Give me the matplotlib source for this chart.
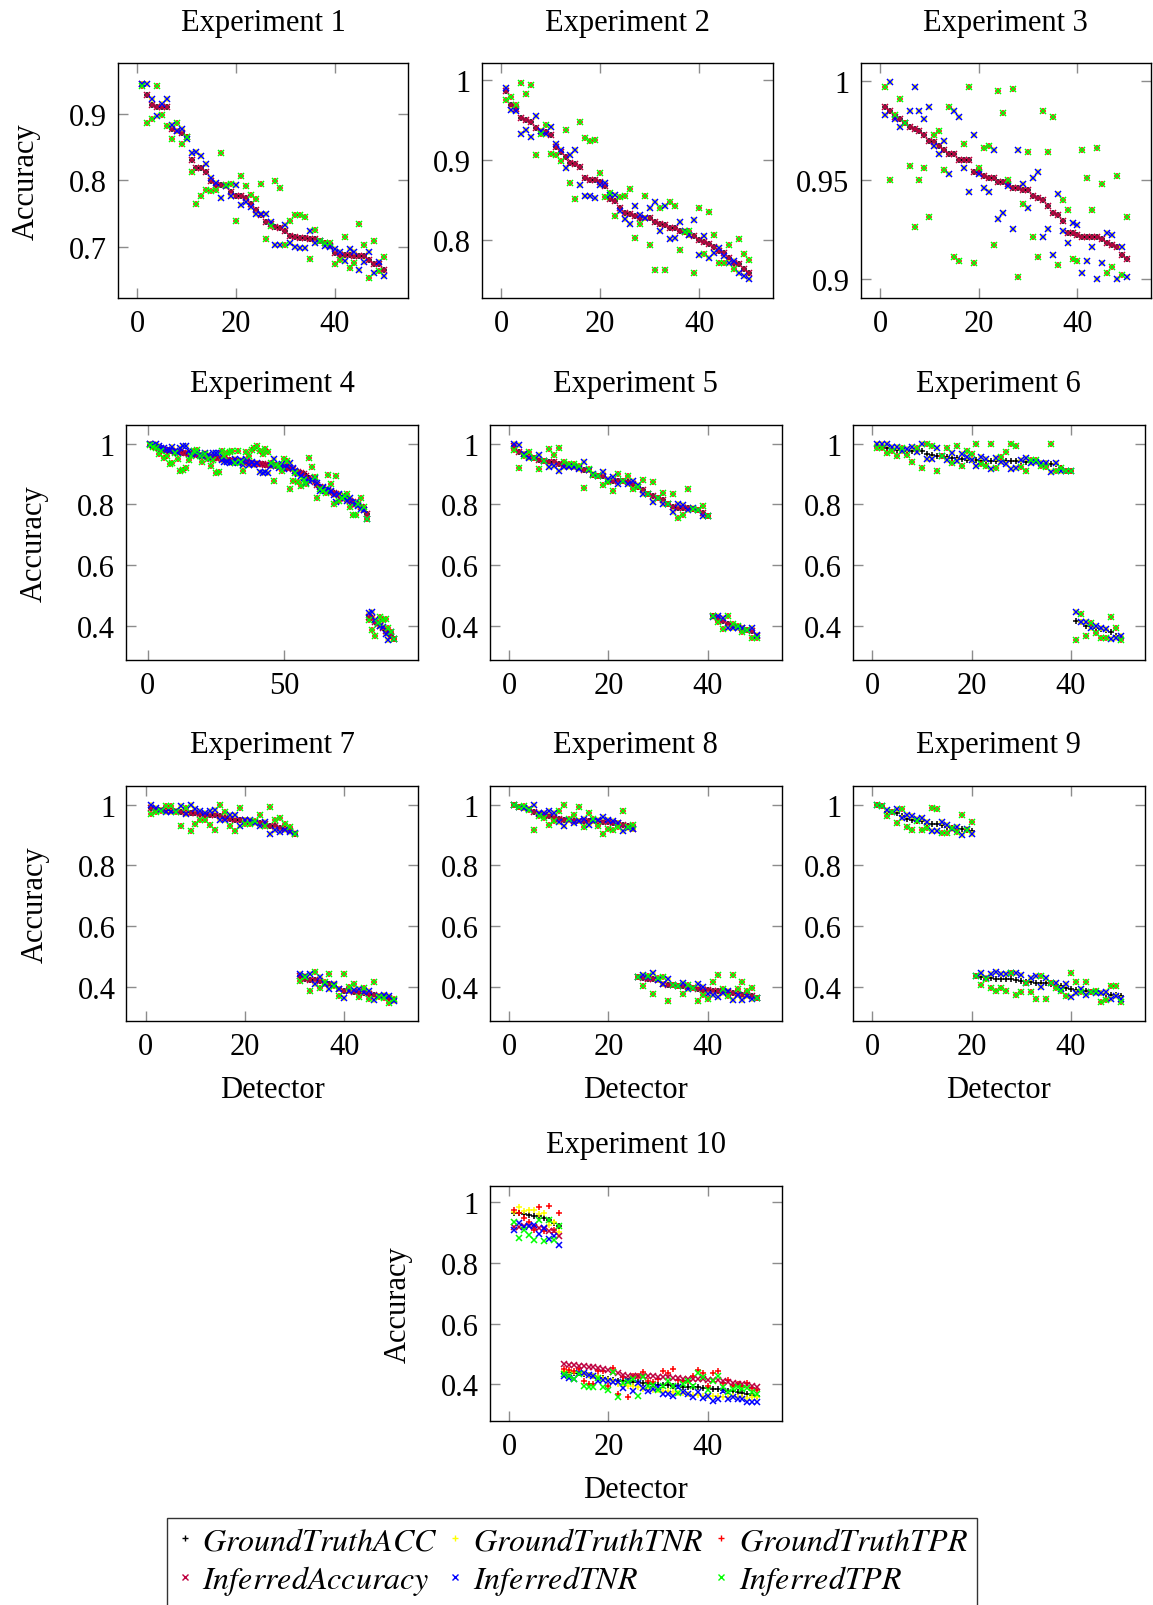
import matplotlib
matplotlib.use("Agg")
import matplotlib.pyplot as plt
from matplotlib.lines import Line2D
import numpy as np

plt.rcParams['font.family'] = ['Liberation Serif', 'DejaVu Serif']
plt.rcParams['mathtext.fontset'] = 'stix'

# ---------------- data ----------------
exp1_acc = [.946,.929,.914,.911,.911,.911,.877,.874,.871,.865,.831,.819,.819,.813,.799,.793,.793,.791,.783,.777,
            .777,.774,.765,.755,.747,.737,.734,.730,.728,.724,.716,.714,.713,.713,.712,.711,.709,.705,.701,.690,
            .688,.688,.687,.686,.686,.686,.680,.674,.673,.664]
exp1_tnr = [.946,.946,.923,.897,.915,.923,.884,.875,.877,.862,.841,.843,.836,.825,.804,.796,.773,.791,.777,.793,
            .763,.767,.759,.749,.749,.749,.737,.702,.702,.732,.706,.700,.698,.698,.724,.705,.709,.701,.700,.696,
            .692,.678,.697,.692,.665,.677,.692,.660,.677,.655]
exp1_tpr = [.943,.887,.893,.943,.899,.882,.863,.886,.855,.866,.812,.764,.776,.785,.784,.785,.841,.793,.795,.739,
            .807,.791,.778,.772,.795,.712,.731,.799,.789,.702,.739,.748,.747,.745,.682,.725,.709,.706,.706,.674,
            .680,.714,.667,.675,.734,.703,.652,.708,.663,.685]

exp2_acc = [.986,.969,.964,.952,.950,.948,.940,.936,.935,.931,.916,.910,.904,.896,.895,.892,.878,.875,.875,.873,
            .868,.852,.849,.841,.834,.833,.830,.828,.828,.828,.823,.821,.819,.816,.815,.812,.810,.807,.805,.800,
            .798,.795,.792,.787,.784,.778,.772,.771,.764,.759]
exp2_tnr = [.990,.963,.961,.933,.937,.929,.955,.936,.932,.941,.920,.913,.890,.907,.913,.869,.856,.855,.853,.869,
            .872,.857,.857,.837,.827,.820,.843,.832,.828,.841,.848,.812,.843,.802,.803,.823,.812,.807,.825,.782,
            .805,.778,.784,.791,.781,.772,.774,.759,.756,.752]
exp2_tpr = [.975,.979,.969,.996,.982,.994,.906,.932,.944,.908,.906,.899,.937,.872,.852,.947,.928,.924,.925,.884,
            .854,.859,.830,.854,.855,.864,.803,.821,.855,.794,.763,.841,.763,.848,.843,.788,.810,.812,.760,.841,
            .783,.836,.807,.772,.772,.794,.764,.802,.783,.776]

exp3_acc = [.987,.985,.982,.981,.979,.977,.976,.975,.973,.970,.969,.967,.965,.963,.963,.960,.960,.960,.954,.954,
            .952,.951,.951,.949,.949,.948,.946,.946,.945,.945,.942,.941,.940,.937,.933,.932,.929,.923,.923,.922,
            .921,.921,.921,.921,.920,.918,.917,.916,.912,.910]
exp3_tnr = [.983,.9995,.981,.977,.979,.985,.997,.985,.981,.987,.967,.963,.970,.953,.985,.982,.956,.944,.973,.953,
            .946,.944,.965,.930,.933,.947,.925,.965,.948,.936,.951,.954,.921,.925,.912,.943,.924,.918,.928,.927,
            .903,.909,.916,.900,.908,.923,.922,.900,.916,.901]
exp3_tpr = [.997,.950,.983,.991,.979,.957,.926,.950,.956,.931,.973,.975,.955,.987,.911,.909,.968,.997,.908,.956,
            .966,.967,.917,.995,.984,.950,.996,.901,.938,.964,.921,.911,.985,.964,.982,.907,.940,.935,.910,.909,
            .965,.951,.935,.966,.948,.903,.906,.952,.902,.931]

exp4_acc = [.997,.993,.990,.986,.982,.980,.978,.976,.975,.973,.972,.971,.969,.968,.966,.965,.964,.962,.961,.960,
            .959,.957,.956,.955,.953,.952,.950,.948,.947,.945,.944,.943,.942,.941,.940,.939,.937,.935,.934,.933,
            .932,.931,.930,.930,.929,.928,.927,.926,.925,.923,.921,.918,.915,.911,.907,.903,.898,.893,.887,.881,
            .873,.864,.856,.852,.848,.845,.841,.837,.833,.829,.825,.821,.816,.811,.807,.802,.797,.791,.782,.768,
            .430,.424,.413,.405,.398,.391,.383,.376,.366,.357]
exp4_tnr = [.997,.995,.997,.991,.985,.984,.978,.980,.990,.975,.969,.985,.993,.993,.975,.965,.972,.968,.963,.960,
            .970,.962,.953,.968,.970,.970,.945,.938,.940,.935,.940,.950,.935,.945,.930,.950,.928,.940,.930,.935,
            .906,.903,.906,.904,.925,.950,.928,.920,.931,.915,.926,.936,.920,.908,.900,.893,.885,.870,.875,.880,
            .887,.870,.845,.858,.850,.848,.845,.830,.807,.835,.825,.822,.812,.822,.800,.808,.795,.785,.780,.752,
            .442,.445,.420,.410,.400,.395,.371,.352,.378,.355]
exp4_tpr = [.995,.987,.985,.964,.977,.953,.960,.931,.935,.968,.950,.909,.914,.920,.947,.958,.975,.978,.960,.940,
            .965,.950,.925,.945,.903,.905,.975,.960,.970,.972,.976,.935,.975,.940,.909,.972,.960,.978,.985,.993,
            .975,.965,.982,.972,.935,.876,.930,.925,.910,.950,.942,.851,.876,.903,.872,.860,.880,.866,.951,.922,
            .890,.821,.851,.845,.836,.895,.866,.802,.893,.810,.820,.826,.835,.790,.766,.766,.800,.820,.790,.752,
            .418,.387,.366,.410,.430,.418,.423,.392,.379,.357]

exp5_acc = [.992,.973,.967,.956,.951,.947,.943,.940,.938,.932,.929,.927,.922,.918,.914,.914,.897,.894,.892,.878,
            .876,.876,.876,.873,.867,.858,.848,.835,.827,.821,.813,.800,.791,.788,.788,.786,.783,.780,.771,.760,
            .432,.426,.415,.404,.399,.396,.391,.385,.381,.366]
exp5_tnr = [.998,.995,.967,.951,.953,.962,.943,.922,.927,.909,.924,.922,.922,.916,.940,.914,.900,.894,.905,.884,
            .891,.867,.876,.867,.878,.862,.835,.835,.807,.821,.802,.800,.775,.802,.799,.780,.788,.780,.760,.760,
            .428,.432,.426,.391,.394,.394,.391,.385,.394,.370]
exp5_tpr = [.978,.918,.958,.973,.951,.916,.943,.981,.963,.985,.938,.932,.932,.925,.854,.916,.897,.894,.864,.873,
            .843,.900,.878,.892,.849,.858,.881,.835,.873,.821,.838,.800,.835,.756,.764,.849,.783,.780,.794,.760,
            .432,.413,.390,.432,.404,.399,.379,.385,.359,.359]

exp6_acc = [.996,.990,.986,.982,.980,.977,.975,.974,.974,.974,.964,.963,.960,.958,.955,.953,.952,.949,.947,.947,
            .947,.944,.942,.941,.941,.941,.941,.941,.941,.941,.938,.938,.938,.936,.936,.933,.933,.919,.911,.909,
            .416,.413,.400,.398,.394,.389,.386,.378,.367,.362]
exp6_tnr = [.999,.997,.999,.988,.990,.977,.982,.990,.971,.997,.949,.949,.985,.960,.946,.968,.941,.966,.955,.946,
            .927,.955,.949,.916,.952,.938,.931,.916,.919,.947,.952,.935,.938,.936,.936,.905,.935,.909,.911,.909,
            .444,.413,.413,.391,.398,.392,.389,.356,.358,.365]
exp6_tpr = [.985,.985,.969,.977,.960,.985,.963,.938,.985,.920,.999,.993,.908,.960,.985,.935,.993,.927,.975,.964,
            .997,.933,.927,.999,.919,.955,.971,.999,.993,.924,.911,.946,.946,.927,.922,.999,.908,.919,.911,.909,
            .353,.438,.365,.409,.375,.359,.359,.427,.391,.354]

exp7_acc = [.989,.983,.981,.979,.978,.978,.976,.972,.972,.972,.970,.967,.965,.965,.961,.956,.954,.948,.948,.948,
            .945,.943,.939,.937,.928,.928,.924,.921,.913,.904,.436,.428,.425,.425,.420,.412,.412,.406,.394,.387,
            .387,.384,.384,.381,.379,.376,.372,.370,.365,.359]
exp7_tnr = [.998,.989,.983,.976,.976,.979,.994,.968,1.0,.987,.979,.972,.979,.983,.950,.950,.967,.965,.930,.948,
            .948,.939,.928,.943,.902,.915,.910,.915,.910,.907,.442,.436,.445,.412,.434,.411,.394,.409,.395,.365,
            .387,.390,.394,.383,.387,.357,.372,.373,.370,.356]
exp7_tpr = [.970,.976,.979,.994,.994,.976,.930,.989,.912,.937,.950,.948,.934,.918,.998,.976,.930,.912,.989,.937,
            .937,.945,.965,.928,.992,.950,.957,.937,.926,.902,.422,.434,.389,.449,.398,.416,.442,.403,.370,.442,
            .401,.409,.367,.398,.361,.416,.368,.365,.348,.362]

exp8_acc = [.998,.992,.990,.985,.974,.968,.965,.962,.960,.954,.949,.949,.947,.947,.945,.945,.945,.945,.943,.943,
            .941,.938,.932,.929,.921,.433,.430,.428,.427,.425,.412,.406,.406,.405,.403,.400,.397,.394,.392,.390,
            .389,.386,.386,.384,.381,.378,.376,.373,.370,.365]
exp8_tnr = [1.0,.992,.990,.985,.998,.973,.971,.978,.971,.943,.929,.949,.940,.947,.954,.932,.945,.949,.960,.949,
            .945,.940,.914,.924,.919,.433,.441,.432,.447,.425,.410,.427,.408,.405,.414,.395,.397,.412,.400,.378,
            .376,.367,.381,.389,.359,.376,.359,.370,.362,.365]
exp8_tpr = [.998,.992,.996,.981,.918,.963,.956,.932,.947,.979,.998,.952,.967,.992,.927,.971,.952,.929,.903,.921,
            .916,.927,.978,.927,.932,.433,.403,.436,.379,.430,.433,.356,.406,.405,.379,.406,.397,.356,.373,.362,
            .417,.439,.394,.372,.439,.395,.417,.389,.397,.365]

exp9_acc = [.998,.995,.976,.976,.972,.963,.954,.948,.946,.945,.937,.935,.935,.934,.926,.923,.921,.921,.917,.913,
            .437,.435,.431,.429,.428,.428,.426,.426,.424,.420,.418,.417,.415,.413,.413,.409,.406,.404,.396,.393,
            .391,.391,.387,.385,.384,.380,.378,.376,.373,.371]
exp9_tnr = [.998,.995,.981,.974,.987,.956,.967,.963,.952,.957,.943,.912,.913,.943,.932,.919,.926,.901,.921,.902,
            .437,.448,.431,.444,.450,.442,.442,.448,.448,.439,.415,.429,.437,.402,.431,.413,.413,.393,.409,.367,
            .382,.393,.376,.385,.382,.382,.384,.360,.371,.360]
exp9_tpr = [.998,.995,.961,.976,.939,.987,.926,.917,.945,.917,.923,.989,.985,.908,.906,.923,.910,.965,.915,.943,
            .437,.407,.426,.398,.387,.398,.387,.448,.374,.384,.415,.384,.360,.437,.360,.413,.396,.387,.371,.448,
            .417,.384,.417,.385,.387,.352,.358,.404,.404,.351]

exp10_gt_acc = [.965,.964,.962,.960,.956,.954,.947,.942,.931,.921,
                .442,.440,.438,.436,.433,.431,.428,.425,.420,.418,.415,.412,.411,.410,.409,.407,.405,.403,.401,.399,
                .398,.397,.395,.393,.392,.391,.391,.390,.389,.388,.386,.383,.381,.379,.377,.374,.372,.369,.366,.363]
exp10_gt_tnr = [.969,.984,.970,.976,.976,.962,.964,.925,.936,.901,
                .445,.443,.440,.440,.437,.432,.428,.425,.418,.414,.410,.402,.398,.396,.394,.390,.386,.384,.382,.380,
                .379,.378,.376,.372,.370,.368,.366,.365,.363,.362,.362,.360,.358,.357,.360,.358,.357,.356,.357,.357]
exp10_gt_tpr = [.976,.965,.947,.934,.910,.984,.904,.989,.910,.965,
                .451,.448,.445,.451,.410,.401,.401,.443,.445,.393,.453,.368,.423,.357,.426,.426,.442,.412,.407,.418,
                .445,.437,.451,.414,.412,.412,.429,.448,.437,.396,.437,.445,.404,.415,.393,.401,.393,.404,.387,.382]
exp10_inf_acc = [.920,.920,.921,.923,.920,.914,.912,.907,.907,.890,
                 .467,.465,.463,.462,.460,.458,.456,.454,.450,.446,.442,.436,.430,.429,.428,.427,.427,.426,.426,.425,
                 .424,.423,.422,.420,.419,.418,.418,.417,.416,.414,.414,.413,.412,.408,.404,.401,.400,.398,.395,.392]
exp10_inf_tnr = [.910,.932,.920,.923,.925,.896,.914,.879,.890,.860,
                 .426,.421,.418,.437,.436,.431,.429,.412,.415,.410,.409,.407,.387,.412,.379,.404,.387,.379,.385,.390,
                 .368,.368,.360,.390,.374,.368,.357,.374,.354,.363,.346,.352,.379,.352,.357,.352,.352,.341,.343,.343]
exp10_inf_tpr = [.934,.882,.909,.892,.876,.943,.871,.942,.876,.923,
                 .434,.429,.418,.434,.396,.390,.390,.420,.390,.381,.440,.357,.404,.407,.418,.363,.425,.396,.398,.382,
                 .393,.412,.396,.370,.401,.412,.393,.436,.423,.381,.412,.429,.390,.374,.385,.390,.385,.387,.374,.368]

titles = ["Experiment %d" % k for k in range(1, 11)]
legend_labels = ["GroundTruthACC", "GroundTruthTNR", "GroundTruthTPR",
                 "InferredAccuracy", "InferredTNR", "InferredTPR"]

# ---------------- styling ----------------
W, H = 1153, 1606
FS = 22
series_style = [('+', 'black'), ('+', '#FFFF00'), ('+', '#FF0000'),
                ('x', '#BF0040'), ('x', '#0000FF'), ('x', '#00FF00')]
MS, MEW = 4.6, 1.1

fig = plt.figure(figsize=(W / 100, H / 100), dpi=100)

def make_ax(l, t, r, b):
    return fig.add_axes([l / W, 1 - b / H, (r - l) / W, (b - t) / H])

boxes = [(118, 64, 408.3, 299.3), (481.7, 64, 773.3, 299.3), (860.7, 64, 1151, 299.3),
         (126, 425.7, 418.3, 660.7), (489.7, 425.7, 781.7, 660.7), (852.7, 425.7, 1145, 660.7),
         (126.5, 786.7, 418.3, 1022.3), (489.7, 786.7, 781.7, 1022.3), (852.7, 786.7, 1145, 1022.3),
         (489.7, 1186.7, 781.7, 1422.3)]

series_sets = [
    [exp1_acc, exp1_tnr, exp1_tpr, exp1_acc, exp1_tnr, exp1_tpr],
    [exp2_acc, exp2_tnr, exp2_tpr, exp2_acc, exp2_tnr, exp2_tpr],
    [exp3_acc, exp3_tnr, exp3_tpr, exp3_acc, exp3_tnr, exp3_tpr],
    [exp4_acc, exp4_tnr, exp4_tpr, exp4_acc, exp4_tnr, exp4_tpr],
    [exp5_acc, exp5_tnr, exp5_tpr, exp5_acc, exp5_tnr, exp5_tpr],
    [exp6_acc, exp6_tnr, exp6_tpr, None, exp6_tnr, exp6_tpr],
    [exp7_acc, exp7_tnr, exp7_tpr, exp7_acc, exp7_tnr, exp7_tpr],
    [exp8_acc, exp8_tnr, exp8_tpr, exp8_acc, exp8_tnr, exp8_tpr],
    [exp9_acc, exp9_tnr, exp9_tpr, None, exp9_tnr, exp9_tpr],
    [exp10_gt_acc, exp10_gt_tnr, exp10_gt_tpr, exp10_inf_acc, exp10_inf_tnr, exp10_inf_tpr],
]

ylims = [(0.622, 0.977), (0.728, 1.021), (0.890, 1.0093)] + [(0.288, 1.062)] * 6 + [(0.278, 1.055)]
yticks = [([0.7, 0.8, 0.9], ['0.7', '0.8', '0.9']),
          ([0.8, 0.9, 1.0], ['0.8', '0.9', '1']),
          ([0.9, 0.95, 1.0], ['0.9', '0.95', '1'])] + \
         [([0.4, 0.6, 0.8, 1.0], ['0.4', '0.6', '0.8', '1'])] * 7

for k in range(10):
    ax = make_ax(*boxes[k])
    sets = series_sets[k]
    n = len(sets[0])
    x = np.arange(1, n + 1)
    for s, (mk, col) in zip(sets, series_style):
        if s is None:
            continue
        ax.plot(x, s, ls='none', marker=mk, color=col, ms=MS, mew=MEW)
    ax.set_xlim(1 - 0.1 * (n - 1), n + 0.1 * (n - 1))
    ax.set_xticks([0, 50] if k == 3 else [0, 20, 40])
    ax.set_ylim(*ylims[k])
    ax.set_yticks(yticks[k][0])
    ax.set_yticklabels(yticks[k][1])
    ax.tick_params(direction='in', length=7, width=1.0, color='#8c8c8c',
                   top=True, right=True, labelsize=FS, pad=8)
    for sp in ax.spines.values():
        sp.set_linewidth(1.0)
        sp.set_color('black')
    ax.set_title(titles[k], fontsize=FS, pad=24)
    if k in (0, 3, 6, 9):
        ax.set_ylabel('Accuracy', fontsize=FS, labelpad=20)
    if k in (6, 7, 8, 9):
        ax.set_xlabel('Detector', fontsize=FS, labelpad=10)

handles = [Line2D([], [], ls='none', marker=mk, color=col, ms=4.0, mew=1.0) for mk, col in series_style]
labels = ['$' + t + '$' for t in legend_labels]
order = [0, 3, 1, 4, 2, 5]
leg = fig.legend([handles[i] for i in order], [labels[i] for i in order],
                 loc='center', bbox_to_anchor=(572 / W, 1 - 1563 / H), ncol=3,
                 fontsize=23, frameon=True, fancybox=False, edgecolor='black',
                 handlelength=0.5, handletextpad=0.3, columnspacing=0.3,
                 labelspacing=0.2, borderpad=0.3, borderaxespad=0)
leg.get_frame().set_linewidth(1.0)

fig.savefig('out.png', dpi=100)
